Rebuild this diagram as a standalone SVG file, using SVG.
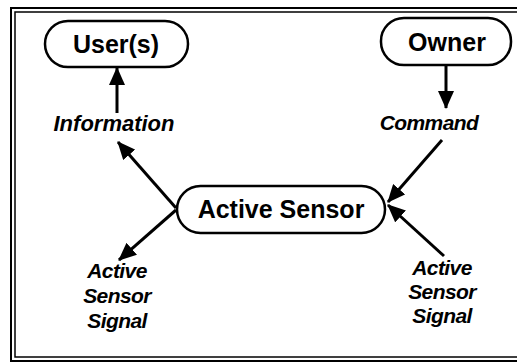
<svg xmlns="http://www.w3.org/2000/svg" width="517" height="364" viewBox="0 0 517 364">
<defs>
<style>
.pill{fill:#fff;stroke:#000;stroke-width:2.5}
.nt{font-family:"Liberation Sans",Arial,sans-serif;font-weight:bold;font-size:25px;text-anchor:middle;fill:#000}
.lb{font-family:"Liberation Sans",Arial,sans-serif;font-weight:bold;font-style:italic;font-size:21px;text-anchor:middle;fill:#000;letter-spacing:-0.6px}
.cn{stroke:#000;stroke-width:3;fill:none;marker-end:url(#ah)}
</style>
<marker id="ah" markerUnits="userSpaceOnUse" markerWidth="18" markerHeight="16" viewBox="0 0 18 16" refX="17" refY="8" orient="auto">
<path d="M0,0 L18,8 L0,16 Z" fill="#000"/>
</marker>
</defs>
<rect width="517" height="364" fill="#fff"/>
<g id="frame" fill="none" stroke="#000">
<rect x="11" y="8" width="512" height="353" stroke-width="2"/>
<rect x="15" y="12" width="504" height="345" stroke-width="1.5"/>
</g>
<g id="users">
<rect class="pill" x="45" y="21" width="143" height="46" rx="23"/>
<text class="nt" x="116" y="53">User(s)</text>
</g>
<g id="owner">
<rect class="pill" x="381" y="18" width="130" height="47" rx="23"/>
<text class="nt" x="447" y="51">Owner</text>
</g>
<g id="active-sensor">
<rect class="pill" x="177" y="186" width="208" height="47" rx="23.5"/>
<text class="nt" x="281" y="218">Active Sensor</text>
</g>
<g id="labels">
<text class="lb" x="114" y="131" style="font-size:22px;letter-spacing:0">Information</text>
<text class="lb" x="429" y="130">Command</text>
<text class="lb" x="117" y="278">Active</text>
<text class="lb" x="117" y="303">Sensor</text>
<text class="lb" x="117" y="328">Signal</text>
<text class="lb" x="442" y="275">Active</text>
<text class="lb" x="442" y="299">Sensor</text>
<text class="lb" x="442" y="323">Signal</text>
</g>
<g id="connectors">
<line class="cn" x1="117" y1="113" x2="117" y2="68"/>
<line class="cn" x1="446" y1="66" x2="446" y2="108"/>
<line class="cn" x1="442" y1="140" x2="388" y2="202"/>
<line class="cn" x1="444" y1="256" x2="388" y2="205"/>
<line class="cn" x1="176" y1="208" x2="118" y2="142"/>
<line class="cn" x1="176" y1="210" x2="119" y2="260"/>
</g>
</svg>
